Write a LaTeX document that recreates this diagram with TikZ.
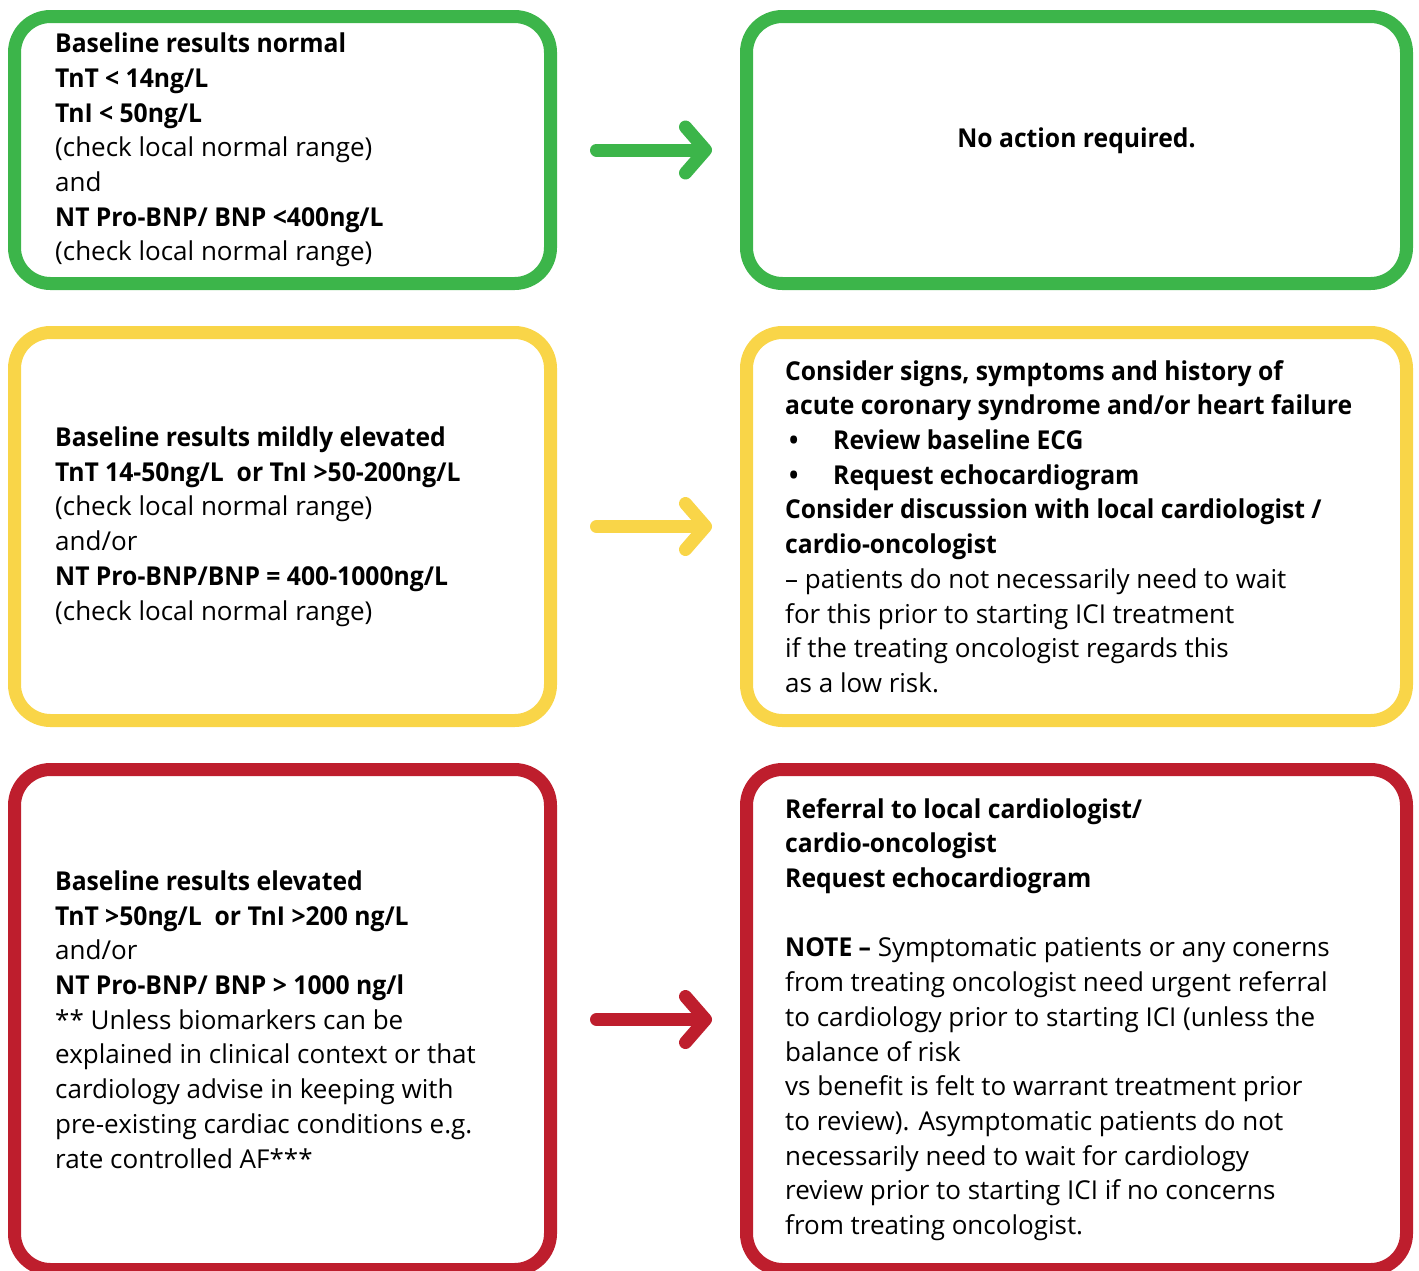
\documentclass[tikz,border=0pt]{standalone}
\usepackage{fontspec}
\setmainfont{Open Sans}[BoldFeatures={FakeStretch=0.95}]
\usetikzlibrary{positioning,arrows.meta}
\definecolor{okgreen}{HTML}{3CB54A}
\definecolor{warnyellow}{HTML}{F9D548}
\definecolor{alertred}{HTML}{BE1E2D}

\begin{document}
\begin{tikzpicture}[x=1pt,y=-1pt,
    box/.style={rectangle,draw=#1,line width=13pt,rounded corners=36pt,inner sep=0pt},
    leftbox/.style={box=#1,minimum width=536pt},
    rightbox/.style={box=#1,minimum width=660pt},
    txt/.style={align=left,inner sep=0pt,font=\fontsize{26}{34.7}\selectfont},
    flow/.style={draw=#1,line width=13pt,line cap=round,shorten <=39.5pt,shorten >=28pt,
      -{Straight Barb[length=20pt,width=46pt,round]}}]
  \useasboundingbox (0,0) rectangle (1419,1270);

  % normal results
  \node[leftbox=okgreen,minimum height=267pt] (normal) at (282.5,150) {};
  \node[rightbox=okgreen,minimum height=267pt] (noaction) at (1076.5,150) {};
  \node[txt,right=47pt of normal.west] (normaltxt) {\bfseries Baseline results normal\\
    \bfseries TnT < 14ng/L\\
    \bfseries TnI < 50ng/L\\
    (check local normal range)\\
    and\\
    \bfseries NT Pro-BNP/ BNP <400ng/L\\
    (check local normal range)};
  \node[txt,font=\fontsize{26}{34.7}\selectfont\bfseries] (noactiontxt) at ([yshift=9pt]noaction.center) {No action required.};
  \draw[flow=okgreen] (normal) -- (noaction);

  % mildly elevated
  \node[leftbox=warnyellow,minimum height=388pt] (mild) at (282.5,526.5) {};
  \node[rightbox=warnyellow,minimum height=388pt] (consider) at (1076.5,526.5) {};
  \node[txt,right=47pt of mild.west] (mildtxt) {\bfseries Baseline results mildly elevated\\
    \bfseries TnT 14-50ng/L\ \ or TnI >50-200ng/L\\
    (check local normal range)\\
    and/or\\
    \bfseries NT Pro-BNP/BNP = 400-1000ng/L\\
    (check local normal range)};
  \node[txt,right=45pt of consider.west] (considertxt) {\bfseries Consider signs, symptoms and history of\\
    \bfseries acute coronary syndrome and/or heart failure\\
    \bfseries\makebox[48pt][l]{\hspace{4pt}•}Review baseline ECG\\
    \bfseries\makebox[48pt][l]{\hspace{4pt}•}Request echocardiogram\\
    \bfseries Consider discussion with local cardiologist /\\
    \bfseries cardio-oncologist\\
    – patients do not necessarily need to wait\\
    for this prior to starting ICI treatment\\
    if the treating oncologist regards this\\
    as a low risk.};
  \draw[flow=warnyellow] (mild) -- (consider);

  % elevated
  \node[leftbox=alertred,minimum height=500pt] (elevated) at (282.5,1019.5) {};
  \node[rightbox=alertred,minimum height=500pt] (referral) at (1076.5,1019.5) {};
  \node[txt,right=47pt of elevated.west] (elevatedtxt) {\bfseries Baseline results elevated\\
    \bfseries TnT >50ng/L\ \ or TnI >200 ng/L\\
    and/or\\
    \bfseries NT Pro-BNP/ BNP > 1000 ng/l\\
    ** Unless biomarkers can be\\
    explained in clinical context or that\\
    cardiology advise in keeping with\\
    pre-existing cardiac conditions e.g.\\
    rate controlled AF***};
  \node[txt,right=45pt of referral.west] (referraltxt) {\bfseries Referral to local cardiologist/\\
    \bfseries cardio-oncologist\\
    \bfseries Request echocardiogram\\[34.7pt]
    \textbf{NOTE –} Symptomatic patients or any conerns\\
    from treating oncologist need urgent referral\\
    to cardiology prior to starting ICI (unless the\\
    balance of risk\\
    vs benefit is felt to warrant treatment prior\\
    to review). Asymptomatic patients do not\\
    necessarily need to wait for cardiology\\
    review prior to starting ICI if no concerns\\
    from treating oncologist.};
  \draw[flow=alertred] (elevated) -- (referral);
\end{tikzpicture}
\end{document}
